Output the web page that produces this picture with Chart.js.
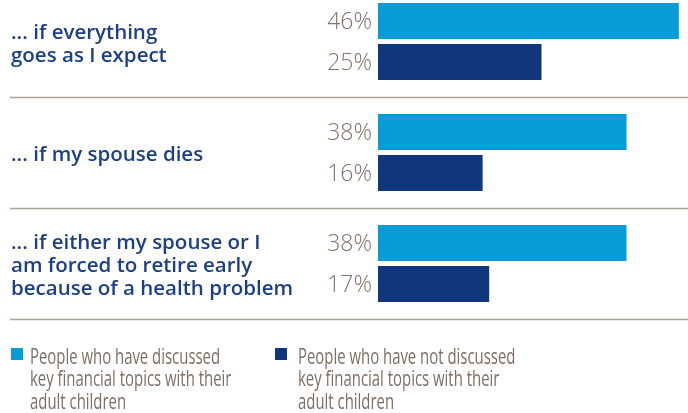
<!DOCTYPE html>
<html>
<head>
<meta charset="utf-8">
<script src="https://cdn.jsdelivr.net/npm/chart.js@4/dist/chart.umd.min.js"></script>
<style>
  html, body { margin: 0; padding: 0; background: #fff; overflow: hidden; }
  #wrap { position: absolute; left: 0; top: -14px; width: 688px; height: 427px; }
</style>
</head>
<body>
<div id="wrap"><canvas id="chart"></canvas></div>
<script>
const categories = [
  ['... if everything', 'goes as I expect'],
  ['... if my spouse dies'],
  ['... if either my spouse or I', 'am forced to retire early', 'because of a health problem']
];
const discussed = [46, 38, 38];
const notDiscussed = [25, 16, 17];
const seriesNames = [
  ['People who have discussed', 'key financial topics with their', 'adult children'],
  ['People who have not discussed', 'key financial topics with their', 'adult children']
];
const colors = ['#079bd8', '#10367d'];

const labelsPlugin = {
  id: 'labelsPlugin',
  afterDraw(chart) {
    const ctx = chart.ctx;
    const y = chart.scales.y;
    const band = y.getPixelForValue(1) - y.getPixelForValue(0);
    ctx.save();

    // separators
    ctx.strokeStyle = '#aaa198';
    ctx.lineWidth = 1.5;
    categories.forEach((c, i) => {
      const yy = Math.round(y.getPixelForValue(i) + band / 2) + 0.5;
      ctx.beginPath();
      ctx.moveTo(10, yy);
      ctx.lineTo(688, yy);
      ctx.stroke();
    });

    // category labels
    ctx.fillStyle = '#1b3f87';
    ctx.font = '600 20.5px "Open Sans"';
    ctx.textBaseline = 'middle';
    ctx.textAlign = 'left';
    categories.forEach((lines, i) => {
      const cy = y.getPixelForValue(i) + 3;
      const lh = 23;
      lines.forEach((t, j) => {
        ctx.fillText(t, 11, cy + (j - (lines.length - 1) / 2) * lh);
      });
    });

    // value labels
    ctx.fillStyle = '#80716a';
    ctx.font = '300 23px "Open Sans"';
    ctx.textAlign = 'right';
    chart.data.datasets.forEach((ds, di) => {
      chart.getDatasetMeta(di).data.forEach((bar, i) => {
        ctx.fillText(ds.data[i] + '%', 372, bar.y + 1);
      });
    });

    // legend
    const boxX = [11, 275];
    const textX = [30, 298];
    seriesNames.forEach((lines, si) => {
      ctx.fillStyle = colors[si];
      ctx.fillRect(boxX[si], 362, 12, 12);
      ctx.fillStyle = '#7d6e64';
      ctx.font = '21px "Open Sans"';
      ctx.textAlign = 'left';
      ctx.textBaseline = 'alphabetic';
      lines.forEach((t, j) => {
        ctx.save();
        ctx.translate(textX[si], 377.5 + j * 22.5);
        ctx.scale(0.71, 1);
        ctx.fillText(t, 0, 0);
        ctx.restore();
      });
    });
    ctx.restore();
  }
};

new Chart(document.getElementById('chart').getContext('2d'), {
  type: 'bar',
  data: {
    labels: categories.map(c => c.join(' ')),
    datasets: [
      { label: seriesNames[0].join(' '), data: discussed, backgroundColor: colors[0] },
      { label: seriesNames[1].join(' '), data: notDiscussed, backgroundColor: colors[1] }
    ]
  },
  options: {
    indexAxis: 'y',
    responsive: true,
    maintainAspectRatio: false,
    animation: false,
    categoryPercentage: 0.739,
    barPercentage: 0.878,
    layout: { padding: { left: 378, right: 0, top: 0, bottom: 94 } },
    scales: {
      x: { display: false, min: 0, max: 47.4 },
      y: { display: false, offset: true }
    },
    plugins: {
      legend: { display: false },
      tooltip: { enabled: false }
    }
  },
  plugins: [labelsPlugin]
});
</script>
</body>
</html>
